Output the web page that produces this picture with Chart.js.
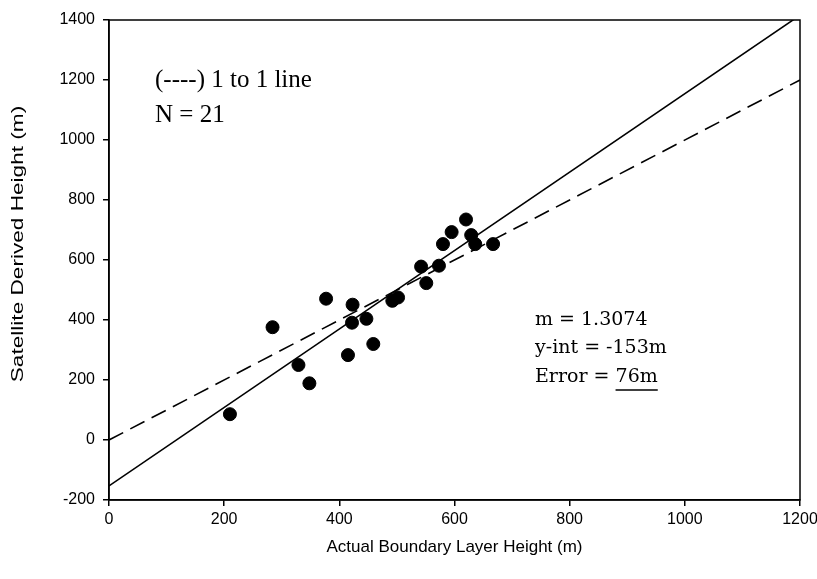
<!DOCTYPE html>
<html>
<head>
<meta charset="utf-8">
<script src="https://cdn.jsdelivr.net/npm/chart.js@4.4.1/dist/chart.umd.min.js"></script>
<style>
  html, body { margin: 0; padding: 0; background: #fff; }
  #wrap { width: 817px; height: 579px; position: relative; }
</style>
</head>
<body>
<div id="wrap"><canvas id="chartBL"></canvas></div>
<script>
const actualHeight = [210, 284, 377, 423, 329, 348, 422, 447, 415, 459, 492,
                      502, 542, 551, 573, 580, 595, 620, 629, 636, 667];
const satHeight    = [86, 376, 471, 451, 250, 189, 391, 404, 283, 320, 464,
                      475, 578, 523, 581, 653, 693, 735, 683, 653, 653];

// fit stats printed on the chart
const SLOPE = 1.3074;
const INTERCEPT = -153;
const ERROR_M = 76;

const xTicks = [0, 200, 400, 600, 800, 1000, 1200];
const yTicks = [-200, 0, 200, 400, 600, 800, 1000, 1200, 1400];
const Y_TITLE = "Satellite Derived Height (m)";

const el = (id) => document.getElementById(id);

const xMin = xTicks[0], xMax = xTicks[xTicks.length - 1];
const points = actualHeight.map((x, i) => ({ x, y: satHeight[i] }));
const fitLine = [xMin, xMax].map((x) => ({ x, y: SLOPE * x + INTERCEPT }));
const oneToOne = [xMin, xMax].map((x) => ({ x, y: x }));

const SANS = "'Liberation Sans', Arial, sans-serif";
const tickFont = { family: SANS, size: 16 };
const titleFont = { family: SANS, size: 17 };

// box round the plot, y title (stretched like the scan) and the text notes
const framePlugin = {
    id: "frame",
    afterDraw(chart) {
        const { ctx, chartArea: a } = chart;
        ctx.save();
        ctx.strokeStyle = "#000";
        ctx.lineWidth = 1.5;
        ctx.strokeRect(a.left, a.top, a.right - a.left, a.bottom - a.top);

        ctx.fillStyle = "#000";

        ctx.save();
        ctx.translate(18, 244);
        ctx.rotate(-Math.PI / 2);
        ctx.scale(1.33, 1);
        ctx.font = "17px " + SANS;
        ctx.textAlign = "center";
        ctx.textBaseline = "middle";
        ctx.fillText(Y_TITLE, 0, 0);
        ctx.restore();

        ctx.textBaseline = "alphabetic";
        ctx.textAlign = "left";
        ctx.font = "25px 'Liberation Serif', 'Times New Roman', serif";
        ctx.fillText("(----) 1 to 1 line", a.left + 46, a.top + 67);
        ctx.fillText("N = " + actualHeight.length, a.left + 46, a.top + 102);

        ctx.font = "19px 'DejaVu Serif', serif";
        const tx = a.left + 426;
        ctx.fillText("m = " + SLOPE.toFixed(4), tx, a.top + 305);
        ctx.fillText("y-int = " + INTERCEPT + "m", tx, a.top + 333);
        const pre = "Error = ";
        const val = ERROR_M + "m";
        ctx.fillText(pre + val, tx, a.top + 362);
        const x0 = tx + ctx.measureText(pre).width;
        const w = ctx.measureText(val).width;
        ctx.lineWidth = 1.3;
        ctx.beginPath();
        ctx.moveTo(x0, a.top + 370);
        ctx.lineTo(x0 + w, a.top + 370);
        ctx.stroke();
        ctx.restore();
    }
};

new Chart(el("chartBL").getContext("2d"), {
    type: "scatter",
    data: {
        datasets: [
            {
                label: "1 to 1",
                type: "line",
                data: oneToOne,
                borderColor: "#000",
                borderWidth: 1.6,
                borderDash: [16, 8],
                pointRadius: 0,
                fill: false,
            },
            {
                label: "fit",
                type: "line",
                data: fitLine,
                borderColor: "#000",
                borderWidth: 1.6,
                pointRadius: 0,
                fill: false,
            },
            {
                label: "obs",
                data: points,
                backgroundColor: "#000",
                borderColor: "#000",
                pointRadius: 6.5,
                pointHoverRadius: 6.5,
            },
        ],
    },
    options: {
        responsive: true,
        maintainAspectRatio: false,
        animation: false,
        layout: { padding: { top: 20, right: 17, bottom: 0, left: 0 } },
        scales: {
            x: {
                type: "linear",
                min: xMin,
                max: xMax,
                afterFit: (s) => { s.height = 79; s.paddingLeft = 0; s.paddingRight = 0; },
                afterBuildTicks: (s) => { s.ticks = xTicks.map((v) => ({ value: v })); },
                ticks: { color: "#000", font: tickFont, padding: 4, callback: (v) => String(v) },
                grid: { drawOnChartArea: false, drawTicks: true, tickLength: 6, color: "#000", lineWidth: 1.5 },
                border: { display: true, color: "#000", width: 1.5 },
                title: { display: true, text: "Actual Boundary Layer Height (m)", color: "#000", font: titleFont, padding: { top: 0, bottom: 21 } },
            },
            y: {
                type: "linear",
                min: yTicks[0],
                max: yTicks[yTicks.length - 1],
                afterFit: (s) => { s.width = 109; },
                afterBuildTicks: (s) => { s.ticks = yTicks.map((v) => ({ value: v })); },
                ticks: { color: "#000", font: tickFont, padding: 8, callback: (v) => String(v) },
                grid: { drawOnChartArea: false, drawTicks: true, tickLength: 6, color: "#000", lineWidth: 1.5 },
                border: { display: true, color: "#000", width: 1.5 },
                title: { display: false },
            },
        },
        plugins: {
            legend: { display: false },
            tooltip: { enabled: false },
        },
    },
    plugins: [framePlugin],
});
</script>
</body>
</html>
